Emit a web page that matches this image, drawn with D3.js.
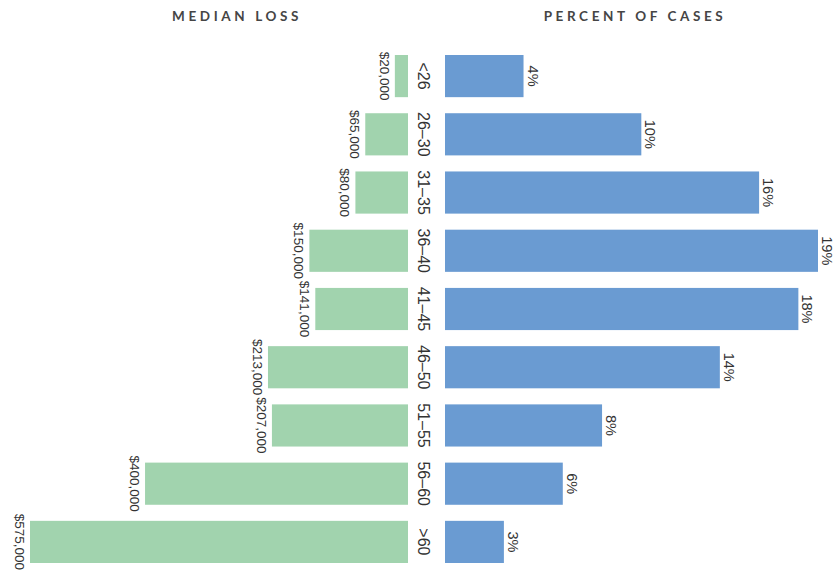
<!DOCTYPE html>
<html><head><meta charset="utf-8">
<script src="https://cdn.jsdelivr.net/npm/d3@7"></script>
<style>body{margin:0;background:#fff}svg{display:block}</style>
</head><body>
<svg id="c" width="840" height="571"></svg>
<script>
const ageGroups = ["<26","26–30","31–35","36–40","41–45","46–50","51–55","56–60",">60"];
const medianLoss = [20000,65000,80000,150000,141000,213000,207000,400000,575000];
const percentCases = [4,10,16,19,18,14,8,6,3];
const titles = ["MEDIAN LOSS","PERCENT OF CASES"];

const svg = d3.select("#c");
const y = d3.scaleBand().domain(ageGroups).range([55,563]).paddingInner(0.276).paddingOuter(0);
const xL = d3.scaleLinear().domain([0,575000]).range([408,30]);
const xR = d3.scaleLinear().domain([0,19]).range([445,818]);
const fmt = v => "$" + d3.format(",")(v);
const txt = "#333";
const font = "'Liberation Sans', Arial, sans-serif";

svg.selectAll("text.title").data(titles).join("text")
  .attr("x",(d,i)=> i===0 ? 237 : 635).attr("y",21)
  .attr("text-anchor","middle").attr("font-family","Lato, 'Open Sans', sans-serif")
  .attr("font-weight",700).attr("font-size",13.5).attr("letter-spacing",3.6)
  .attr("fill","#454545").text(d=>d);

const rows = ageGroups.map((g,i)=>({g, loss:medianLoss[i], pct:percentCases[i]}));

svg.selectAll("rect.l").data(rows).join("rect")
  .attr("x",d=>xL(d.loss)).attr("y",d=>y(d.g))
  .attr("width",d=>xL(0)-xL(d.loss)).attr("height",y.bandwidth())
  .attr("fill","#a1d3ae");
svg.selectAll("rect.r").data(rows).join("rect")
  .attr("x",xR(0)).attr("y",d=>y(d.g))
  .attr("width",d=>xR(d.pct)-xR(0)).attr("height",y.bandwidth())
  .attr("fill","#6a9bd2");

function rotLabel(sel, xf, text, size){
  sel.attr("transform",d=>`translate(${xf(d)},${y(d.g)+y.bandwidth()/2}) rotate(90)`)
    .attr("text-anchor","middle").attr("font-family",font)
    .attr("font-size",size).attr("fill",txt).text(text);
}
svg.selectAll("text.age").data(rows).join("text")
  .call(rotLabel, d=>418, d=>d.g, 16);
svg.selectAll("text.lv").data(rows).join("text")
  .call(rotLabel, d=>xL(d.loss)-15, d=>fmt(d.loss), 13.5);
svg.selectAll("text.rv").data(rows).join("text")
  .call(rotLabel, d=>xR(d.pct)+4, d=>d.pct+"%", 14.5);
</script>
</body></html>
